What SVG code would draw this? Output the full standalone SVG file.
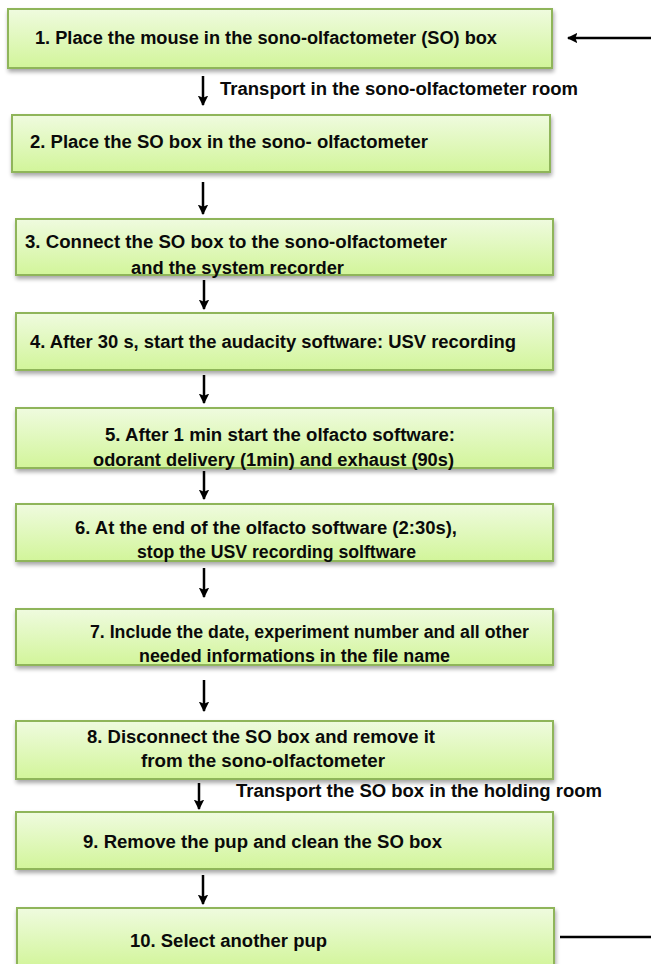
<svg xmlns="http://www.w3.org/2000/svg" width="651" height="964" viewBox="0 0 651 964">
<defs>
<linearGradient id="g" x1="0" y1="0" x2="0" y2="1">
<stop offset="0" stop-color="#effbdf"/>
<stop offset="1" stop-color="#d2f59a"/>
</linearGradient>
<filter id="sh" x="-5%" y="-20%" width="110%" height="150%">
<feGaussianBlur in="SourceAlpha" stdDeviation="2"/>
<feOffset dx="1" dy="3" result="b"/>
<feComponentTransfer><feFuncA type="linear" slope="0.35"/></feComponentTransfer>
<feMerge><feMergeNode/><feMergeNode in="SourceGraphic"/></feMerge>
</filter>
<marker id="ah" viewBox="0 0 10 10" refX="9" refY="5" markerWidth="4.2" markerHeight="4.2" orient="auto" markerUnits="strokeWidth">
<path d="M0,0 L10,5 L0,10 L2,5 Z" fill="#000"/>
</marker>
</defs>
<style>
.box{fill:url(#g);stroke:#8fb55a;stroke-width:2;filter:url(#sh)}
.t{font-family:"Liberation Sans Narrow","Liberation Sans",Arial,sans-serif;font-weight:bold;font-size:18px;fill:#0a0a0a}
.c{stroke:#000;stroke-width:2.5;fill:none}
</style>
<rect width="651" height="964" fill="#fff"/>
<g id="connectors">
<line class="c" x1="203" y1="76" x2="203" y2="105" marker-end="url(#ah)"/>
<line class="c" x1="203" y1="182" x2="203" y2="214" marker-end="url(#ah)"/>
<line class="c" x1="204" y1="280" x2="204" y2="309" marker-end="url(#ah)"/>
<line class="c" x1="204" y1="375" x2="204" y2="403" marker-end="url(#ah)"/>
<line class="c" x1="204" y1="471" x2="204" y2="499" marker-end="url(#ah)"/>
<line class="c" x1="204" y1="568" x2="204" y2="597" marker-end="url(#ah)"/>
<line class="c" x1="204" y1="680" x2="204" y2="711" marker-end="url(#ah)"/>
<line class="c" x1="199" y1="783" x2="199" y2="809" marker-end="url(#ah)"/>
<line class="c" x1="203" y1="875" x2="203" y2="904" marker-end="url(#ah)"/>
<line class="c" x1="651" y1="38" x2="568" y2="38" marker-end="url(#ah)"/>
<line class="c" x1="560" y1="937" x2="651" y2="937"/>
<text class="t" x="220" y="95" textLength="358" lengthAdjust="spacingAndGlyphs">Transport in the sono-olfactometer room</text>
<text class="t" x="236" y="797" textLength="366" lengthAdjust="spacingAndGlyphs">Transport the SO box in the holding room</text>
</g>
<g id="n1"><rect class="box" x="8" y="9" width="544" height="59"/>
<text class="t" x="35" y="44" textLength="462" lengthAdjust="spacingAndGlyphs">1. Place the mouse in the sono-olfactometer (SO) box</text></g>
<g id="n2"><rect class="box" x="12" y="115" width="538" height="57"/>
<text class="t" x="30" y="148" textLength="398" lengthAdjust="spacingAndGlyphs">2. Place the SO box in the sono- olfactometer</text></g>
<g id="n3"><rect class="box" x="16" y="219" width="537" height="56"/>
<text class="t" x="25" y="248" textLength="422" lengthAdjust="spacingAndGlyphs">3. Connect the SO box to the sono-olfactometer</text>
<text class="t" x="131" y="274" textLength="213" lengthAdjust="spacingAndGlyphs">and the system recorder</text></g>
<g id="n4"><rect class="box" x="16" y="313" width="537" height="57"/>
<text class="t" x="30" y="348" textLength="486" lengthAdjust="spacingAndGlyphs">4. After 30 s, start the audacity software: USV recording</text></g>
<g id="n5"><rect class="box" x="16" y="408" width="537" height="60"/>
<text class="t" x="105" y="441" textLength="350" lengthAdjust="spacingAndGlyphs">5. After 1 min start the olfacto software:</text>
<text class="t" x="93" y="466" textLength="361" lengthAdjust="spacingAndGlyphs">odorant delivery (1min) and exhaust (90s)</text></g>
<g id="n6"><rect class="box" x="16" y="504" width="537" height="57"/>
<text class="t" x="75" y="534" textLength="382" lengthAdjust="spacingAndGlyphs">6. At the end of the olfacto software (2:30s),</text>
<text class="t" x="137" y="558" textLength="279" lengthAdjust="spacingAndGlyphs">stop the USV recording solftware</text></g>
<g id="n7"><rect class="box" x="16" y="609" width="537" height="56"/>
<text class="t" x="90" y="638" textLength="439" lengthAdjust="spacingAndGlyphs">7. Include the date, experiment number and all other</text>
<text class="t" x="139" y="662" textLength="311" lengthAdjust="spacingAndGlyphs">needed informations in the file name</text></g>
<g id="n8"><rect class="box" x="16" y="721" width="537" height="58"/>
<text class="t" x="87" y="743" textLength="348" lengthAdjust="spacingAndGlyphs">8. Disconnect the SO box and remove it</text>
<text class="t" x="141" y="767" textLength="244" lengthAdjust="spacingAndGlyphs">from the sono-olfactometer</text></g>
<g id="n9"><rect class="box" x="16" y="812" width="537" height="57"/>
<text class="t" x="83" y="848" textLength="359" lengthAdjust="spacingAndGlyphs">9. Remove the pup and clean the SO box</text></g>
<g id="n10"><rect class="box" x="17" y="908" width="537" height="60"/>
<text class="t" x="130" y="947" textLength="197" lengthAdjust="spacingAndGlyphs">10. Select another pup</text></g>
</svg>
